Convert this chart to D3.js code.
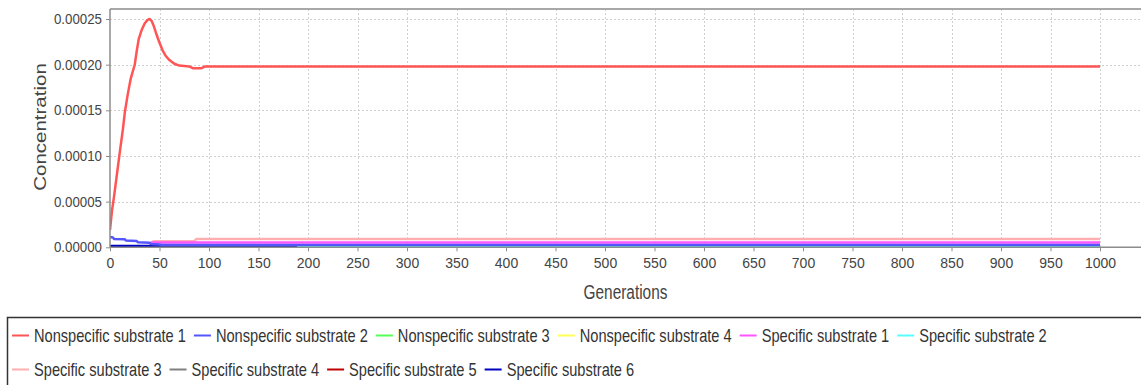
<!DOCTYPE html>
<html>
<head>
<meta charset="utf-8">
<script src="https://cdn.jsdelivr.net/npm/d3@7"></script>
<style>
  html, body { margin: 0; padding: 0; background: #fff; }
  svg { display: block; font-family: "Liberation Sans", Arial, sans-serif; }
</style>
</head>
<body>
<svg id="chart" width="1141" height="385"></svg>
<script>
// ---- data -------------------------------------------------------------
const seriesNames = [
  "Nonspecific substrate 1", "Nonspecific substrate 2", "Nonspecific substrate 3",
  "Nonspecific substrate 4", "Specific substrate 1", "Specific substrate 2",
  "Specific substrate 3", "Specific substrate 4", "Specific substrate 5",
  "Specific substrate 6"
];
const seriesColors = [
  "#ff5555", "#5555ff", "#55ff55", "#ffff55", "#ff55ff",
  "#55ffff", "#ffafaf", "#808080", "#c00000", "#0000c0"
];

// generation / concentration pairs for each series
const nonspecific1Gen = [0, 2, 4, 7, 10, 13, 15, 18, 21, 25, 27, 29, 32, 35, 38, 40, 42, 44, 47, 50, 53, 56, 60, 65, 70, 80, 84, 92, 96, 1000];
const nonspecific1Val = [0.000019, 0.000040, 0.000055, 0.000080, 0.000105, 0.000129, 0.000148, 0.000168, 0.000185, 0.000200, 0.000215, 0.000228, 0.000238, 0.000245, 0.000249, 0.000250, 0.000248, 0.000243, 0.000233, 0.000224, 0.000216, 0.000210, 0.000205, 0.000201, 0.000199, 0.000198, 0.000196, 0.000196, 0.000198, 0.000198];

const nonspecific2Gen = [0, 3, 4, 15, 16, 27, 28, 40, 41, 50, 52, 1000];
const nonspecific2Val = [0.0000112, 0.0000108, 0.0000092, 0.0000088, 0.0000074, 0.0000068, 0.0000056, 0.0000050, 0.0000036, 0.0000030, 0.0000025, 0.0000025];

const nonspecific3Gen = [0, 1000];
const nonspecific3Val = [0, 0];

const nonspecific4Gen = [0, 1000];
const nonspecific4Val = [0, 0];

const specific1Gen = [40, 42, 1000];
const specific1Val = [0.0000040, 0.0000053, 0.0000053];

const specific2Gen = [189, 191, 1000];
const specific2Val = [0.0000004, 0.0000011, 0.0000011];

const specific3Gen = [42, 44, 85, 87, 1000];
const specific3Val = [0.0000050, 0.0000066, 0.0000066, 0.0000090, 0.0000090];

const specific4Gen = [189, 191, 1000];
const specific4Val = [0.0000003, 0.0000007, 0.0000007];

const specific5Gen = [0, 1000];
const specific5Val = [0, 0];

const specific6Gen = [0, 189, 191, 1000];
const specific6Val = [0.0000014, 0.0000014, 0, 0];

const seriesGens = [nonspecific1Gen, nonspecific2Gen, nonspecific3Gen, nonspecific4Gen, specific1Gen, specific2Gen, specific3Gen, specific4Gen, specific5Gen, specific6Gen];
const seriesVals = [nonspecific1Val, nonspecific2Val, nonspecific3Val, nonspecific4Val, specific1Val, specific2Val, specific3Val, specific4Val, specific5Val, specific6Val];

// painting order, bottom to top
const drawOrder = [8, 2, 3, 9, 7, 5, 6, 4, 1, 0];

const xTicks = d3.range(0, 1001, 50);
const yTicks = [0, 0.00005, 0.00010, 0.00015, 0.00020, 0.00025];

// ---- layout -----------------------------------------------------------
const svg = d3.select("#chart");
const plot = { left: 110, top: 9, right: 1143, bottom: 247.3 };

const x = d3.scaleLinear().domain([0, 1000]).range([110, 1100]);
const y = d3.scaleLinear().domain([0, 0.00025]).range([247.3, 19]);

// narrow text horizontally to the given fraction of its natural width
function squeeze(sel, k) {
  sel.each(function () {
    const w = this.getComputedTextLength();
    this.setAttribute("textLength", w * k);
    this.setAttribute("lengthAdjust", "spacingAndGlyphs");
  });
}

// plot background
svg.append("rect")
  .attr("x", plot.left).attr("y", plot.top)
  .attr("width", plot.right - plot.left).attr("height", plot.bottom - plot.top)
  .attr("fill", "#fff");

// grid
const grid = svg.append("g").attr("stroke", "#cfcfcf").attr("stroke-width", 1)
  .attr("stroke-dasharray", "2,2").attr("shape-rendering", "crispEdges");
grid.selectAll("line.v").data(xTicks.filter(d => d > 0)).join("line")
  .attr("class", "v")
  .attr("x1", d => Math.round(x(d)) + 0.5).attr("x2", d => Math.round(x(d)) + 0.5)
  .attr("y1", plot.top).attr("y2", plot.bottom);
grid.selectAll("line.h").data(yTicks.filter(d => d > 0)).join("line")
  .attr("class", "h")
  .attr("x1", plot.left).attr("x2", plot.right)
  .attr("y1", d => Math.round(y(d)) + 0.5).attr("y2", d => Math.round(y(d)) + 0.5);

// top border of the plot
svg.append("line")
  .attr("x1", plot.left).attr("x2", plot.right)
  .attr("y1", plot.top).attr("y2", plot.top)
  .attr("stroke", "#a8a8a8").attr("stroke-width", 2);

// series
svg.append("clipPath").attr("id", "plotClip").append("rect")
  .attr("x", plot.left).attr("y", plot.top)
  .attr("width", plot.right - plot.left).attr("height", plot.bottom - plot.top);

const line = d3.line().x(d => x(d[0])).y(d => y(d[1]));
const lines = svg.append("g").attr("clip-path", "url(#plotClip)");
drawOrder.forEach(i => {
  const pts = seriesGens[i].map((g, j) => [g, seriesVals[i][j]]);
  lines.append("path")
    .datum(pts)
    .attr("d", line)
    .attr("fill", "none")
    .attr("stroke", seriesColors[i])
    .attr("stroke-width", 2.5)
    .attr("stroke-linejoin", "round");
});

// axes
const axisColor = "#8c8c8c";
const tickText = "#444";

const yAxis = svg.append("g")
  .attr("transform", `translate(${plot.left},0)`)
  .call(d3.axisLeft(y).tickValues(yTicks).tickFormat(d3.format(".5f"))
    .tickSize(4).tickSizeOuter(0).tickPadding(4));
yAxis.select(".domain").remove();
yAxis.selectAll(".tick line").attr("stroke", axisColor);
yAxis.selectAll(".tick text")
  .attr("fill", tickText).style("font-size", "14px")
  .style("font-family", "'Liberation Sans', Arial, sans-serif")
  .call(squeeze, 0.95);
svg.append("line")
  .attr("x1", plot.left).attr("x2", plot.left)
  .attr("y1", plot.top).attr("y2", plot.bottom + 0.5)
  .attr("stroke", axisColor).attr("stroke-width", 1.5);

const xAxis = svg.append("g")
  .attr("transform", `translate(0,${plot.bottom})`)
  .call(d3.axisBottom(x).tickValues(xTicks).tickFormat(d3.format("d"))
    .tickSize(4).tickSizeOuter(0).tickPadding(7));
xAxis.select(".domain").remove();
xAxis.selectAll(".tick line").attr("stroke", axisColor);
xAxis.selectAll(".tick text")
  .attr("fill", tickText).style("font-size", "14px")
  .style("font-family", "'Liberation Sans', Arial, sans-serif");
svg.append("line")
  .attr("x1", plot.left).attr("x2", plot.right)
  .attr("y1", plot.bottom).attr("y2", plot.bottom)
  .attr("stroke", axisColor).attr("stroke-width", 1.5);

// axis titles
svg.append("text")
  .attr("transform", `translate(46,127) scale(0.78,1) rotate(-90)`)
  .attr("text-anchor", "middle")
  .attr("fill", tickText)
  .style("font-size", "20.5px")
  .text("Concentration");

svg.append("text")
  .attr("x", (plot.left + 1141) / 2).attr("y", 299)
  .attr("text-anchor", "middle")
  .attr("fill", tickText)
  .style("font-size", "20px")
  .text("Generations")
  .call(squeeze, 0.77);

// legend
const legend = svg.append("g");
legend.append("rect")
  .attr("x", 7.5).attr("y", 317.5)
  .attr("width", 1150).attr("height", 80)
  .attr("fill", "#fff").attr("stroke", "#333").attr("stroke-width", 1.5);

const rows = [[0, 1, 2, 3, 4, 5], [6, 7, 8, 9]];
const rowY = [335.5, 369.5];
rows.forEach((row, r) => {
  let cx = 12;
  row.forEach(i => {
    legend.append("line")
      .attr("x1", cx).attr("x2", cx + 17)
      .attr("y1", rowY[r]).attr("y2", rowY[r])
      .attr("stroke", seriesColors[i]).attr("stroke-width", 2);
    const t = legend.append("text")
      .attr("x", cx + 22).attr("y", rowY[r]).attr("dy", "0.35em")
      .attr("fill", "#333")
      .style("font-size", "18.5px")
      .text(seriesNames[i])
      .call(squeeze, 0.79);
    cx += 22 + (+t.attr("textLength")) + 8;
  });
});
</script>
</body>
</html>
